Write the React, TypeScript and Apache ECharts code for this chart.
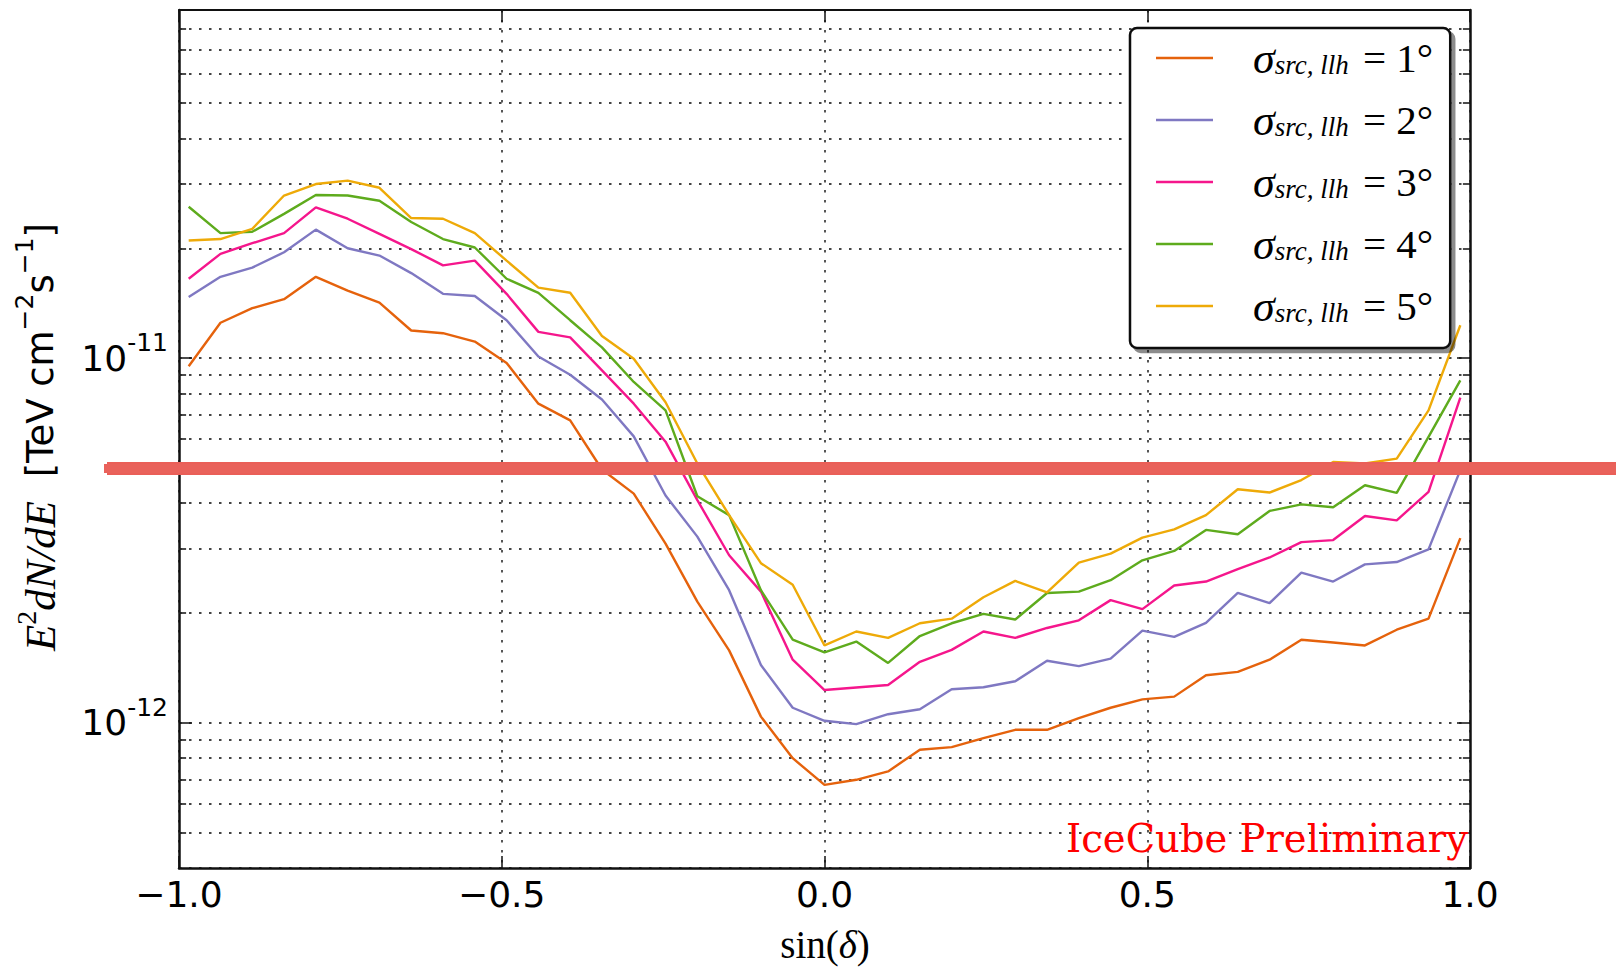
import React, { useEffect, useRef } from 'react';
import * as echarts from 'echarts';

// sin(declination) sample points
const xValues = [
  -0.985, -0.93575, -0.8865, -0.83725, -0.788, -0.73875, -0.6895, -0.64025, -0.591, -0.54175,
  -0.4925, -0.44325, -0.394, -0.34475, -0.2955, -0.24625, -0.197, -0.14775, -0.0985, -0.04925,
  0, 0.04925, 0.0985, 0.14775, 0.197, 0.24625, 0.2955, 0.34475, 0.394, 0.44325,
  0.4925, 0.54175, 0.591, 0.64025, 0.6895, 0.73875, 0.788, 0.83725, 0.8865, 0.93575, 0.985,
];

// values in units of 1e-12 TeV cm^-2 s^-1
const UNIT = 1e-12;
const sigma1 = [
  9.5, 12.5, 13.7, 14.5, 16.7, 15.3, 14.2, 11.9, 11.7, 11.1,
  9.7, 7.5, 6.75, 4.95, 4.25, 3.1, 2.15, 1.58, 1.04, 0.8,
  0.676, 0.698, 0.736, 0.844, 0.858, 0.908, 0.957, 0.957, 1.03, 1.1,
  1.16, 1.18, 1.35, 1.38, 1.49, 1.69, 1.66, 1.63, 1.8, 1.93, 3.21,
];
const sigma2 = [
  14.7, 16.7, 17.7, 19.5, 22.5, 20.0, 19.1, 17.1, 15.0, 14.8,
  12.7, 10.1, 9.0, 7.7, 6.1, 4.2, 3.24, 2.31, 1.44, 1.1,
  1.013, 0.992, 1.056, 1.09, 1.236, 1.252, 1.3, 1.48, 1.43, 1.5,
  1.79, 1.72, 1.88, 2.27, 2.13, 2.58, 2.44, 2.72, 2.76, 2.99, 4.93,
];
const sigma3 = [
  16.5, 19.3, 20.65, 22.0, 25.9, 24.1, 21.9, 19.9, 17.95, 18.5,
  15.0, 11.8, 11.4, 9.25, 7.5, 5.9, 4.08, 2.88, 2.29, 1.49,
  1.23, 1.25, 1.27, 1.47, 1.585, 1.78, 1.71, 1.82, 1.91, 2.17,
  2.05, 2.38, 2.44, 2.64, 2.84, 3.13, 3.17, 3.69, 3.59, 4.3, 7.79,
];
const sigma4 = [
  26.0, 22.0, 22.2, 24.85, 28.0, 27.9, 27.0, 23.6, 21.2, 20.1,
  16.5, 15.1, 12.7, 10.7, 8.6, 7.19, 4.18, 3.71, 2.31, 1.69,
  1.56, 1.67, 1.46, 1.73, 1.875, 1.99, 1.92, 2.27, 2.29, 2.46,
  2.79, 2.96, 3.38, 3.29, 3.81, 3.97, 3.9, 4.48, 4.27, 6.08, 8.69,
];
const sigma5 = [
  21.0, 21.2, 22.6, 27.9, 30.0, 30.65, 29.3, 24.2, 24.1, 22.0,
  18.5, 15.6, 15.1, 11.5, 9.96, 7.57, 5.14, 3.71, 2.74, 2.39,
  1.63, 1.78, 1.71, 1.875, 1.93, 2.21, 2.45, 2.28, 2.75, 2.91,
  3.22, 3.39, 3.71, 4.37, 4.28, 4.63, 5.19, 5.14, 5.3, 7.19, 12.3,
];

const seriesValues = [sigma1, sigma2, sigma3, sigma4, sigma5];
const seriesDegrees = ['1°', '2°', '3°', '4°', '5°'];
const seriesColors = ['#e5620c', '#7f78c2', '#f5168c', '#5eab1d', '#eeaa08'];

const xTicks = [-1.0, -0.5, 0.0, 0.5, 1.0];
const minorGridValues = [
  5e-13, 6e-13, 7e-13, 8e-13, 9e-13,
  2e-12, 3e-12, 4e-12, 5e-12, 6e-12, 7e-12, 8e-12, 9e-12,
  2e-11, 3e-11, 4e-11, 5e-11, 6e-11, 7e-11, 8e-11,
];
const yMin = 4e-13;
const yMax = 9e-11;
const annotationText = 'IceCube Preliminary';

const SANS = 'DejaVu Sans';
const SERIF = 'Liberation Serif';

const dotted = () => ({ type: [2.5, 7.5] as any, color: '#444', width: 1.8 });

export default function App() {
  const ref = useRef<HTMLDivElement>(null);

  useEffect(() => {
    if (!ref.current) return;
    const chart = echarts.init(ref.current, undefined, { renderer: 'svg' });

    const names = seriesDegrees.map((d) => `σsrc, llh = ${d}`);

    const lineSeries = seriesValues.map((vals, k) => ({
      type: 'line',
      name: names[k],
      data: vals.map((v, i) => [xValues[i], v * UNIT]),
      symbol: 'none',
      showSymbol: false,
      lineStyle: { color: seriesColors[k], width: 2.4 },
      itemStyle: { color: seriesColors[k] },
      z: 3,
      silent: true,
    }));

    const tickLen = 0.011;
    const option: any = {
      animation: false,
      backgroundColor: '#fff',
      grid: { left: 179, right: 146, top: 10, bottom: 100, containLabel: false },
      xAxis: [
        {
          type: 'value',
          min: -1,
          max: 1,
          interval: 0.5,
          axisLine: { show: true, onZero: false, lineStyle: { color: '#111', width: 2.5 } },
          axisTick: { show: true, inside: true, length: 12, lineStyle: { color: '#111', width: 1.5 } },
          axisLabel: {
            show: true,
            margin: 5,
            color: '#000',
            fontFamily: SANS,
            fontSize: 36,
            lineHeight: 42,
            formatter: (v: number) => {
              const t = xTicks.find((x) => Math.abs(x - v) < 1e-9);
              const val = t === undefined ? v : t;
              return (val < 0 ? '−' : '') + Math.abs(val).toFixed(1);
            },
          },
          splitLine: { show: true, lineStyle: dotted() },
        },
        {
          type: 'value',
          position: 'top',
          min: -1,
          max: 1,
          interval: 0.5,
          axisLine: { show: true, onZero: false, lineStyle: { color: '#111', width: 2 } },
          axisTick: { show: true, inside: true, length: 12, lineStyle: { color: '#111', width: 1.5 } },
          axisLabel: { show: false },
          splitLine: { show: false },
        },
      ],
      yAxis: [
        {
          type: 'log',
          logBase: 10,
          min: yMin,
          max: yMax,
          axisLine: { show: true, onZero: false, lineStyle: { color: '#111', width: 2.5 } },
          axisTick: { show: true, inside: true, length: 13, lineStyle: { color: '#111', width: 1.5 } },
          axisLabel: {
            show: true,
            margin: 11,
            showMinLabel: false,
            showMaxLabel: false,
            formatter: (v: number) => {
              const e = Math.round(Math.log10(v));
              return `{b|10}{s|${e}}`;
            },
            rich: {
              b: { fontFamily: SANS, fontSize: 36, lineHeight: 56, color: '#000' },
              s: { fontFamily: SANS, fontSize: 25, lineHeight: 25, verticalAlign: 'top', color: '#000' },
            },
          },
          splitLine: { show: true, lineStyle: dotted() },
        },
        {
          type: 'log',
          logBase: 10,
          position: 'right',
          min: yMin,
          max: yMax,
          axisLine: { show: true, onZero: false, lineStyle: { color: '#111', width: 2.5 } },
          axisTick: { show: true, inside: true, length: 13, lineStyle: { color: '#111', width: 1.5 } },
          axisLabel: { show: false },
          splitLine: { show: false },
        },
      ],
      legend: {
        show: true,
        z: 20,
        data: names.map((n) => ({ name: n, icon: 'rect' })),
        orient: 'vertical',
        left: 1130,
        top: 28,
        itemWidth: 57,
        itemHeight: 2.5,
        itemGap: 18,
        padding: [8, 17, 20, 26],
        backgroundColor: '#fff',
        borderColor: '#111',
        borderWidth: 2.5,
        borderRadius: 7,
        shadowColor: 'rgba(0,0,0,0.45)',
        shadowOffsetX: 4,
        shadowOffsetY: 4,
        shadowBlur: 0,
        selectedMode: false,
        formatter: (name: string) => {
          const deg = name.split('= ')[1];
          return `{s|σ}{sub|src, llh}{eq| = ${deg}}`;
        },
        textStyle: {
          color: '#000',
          rich: {
            s: { fontFamily: SERIF, fontStyle: 'italic', fontSize: 44, lineHeight: 40, padding: [0, 0, 0, 35], color: '#000' },
            sub: { fontFamily: SERIF, fontStyle: 'italic', fontSize: 27, lineHeight: 20, verticalAlign: 'bottom', padding: [0, 4, 0, 0], color: '#000' },
            eq: { fontFamily: SERIF, fontSize: 41, lineHeight: 40, color: '#000' },
          },
        },
      },
      series: [
        {
          type: 'line',
          name: 'minor-grid',
          data: [],
          silent: true,
          z: 1,
          markLine: {
            silent: true,
            z: 1,
            symbol: ['none', 'none'],
            label: { show: false },
            lineStyle: dotted(),
            emphasis: { disabled: true },
            data: minorGridValues.map((v) => [{ coord: [-1, v] }, { coord: [1, v] }]),
          },
        },
        {
          type: 'line',
          name: 'minor-ticks',
          data: [],
          silent: true,
          z: 2,
          markLine: {
            silent: true,
            z: 2,
            symbol: ['none', 'none'],
            label: { show: false },
            lineStyle: { type: 'solid', color: '#111', width: 1.5 },
            emphasis: { disabled: true },
            data: [
              ...minorGridValues.map((v) => [{ coord: [-1, v] }, { coord: [-1 + tickLen, v] }]),
              ...minorGridValues.map((v) => [{ coord: [1 - tickLen, v] }, { coord: [1, v] }]),
            ],
          },
        },
        ...lineSeries,
      ],
      graphic: [
        {
          type: 'text',
          x: 40,
          y: 437,
          rotation: Math.PI / 2,
          z: 10,
          style: {
            text: '{e|E}{es|2}{e|dN/dE}{t|  [TeV cm}{ts|−2}{t|s}{ts|−1}{t|]}',
            align: 'center',
            verticalAlign: 'middle',
            rich: {
              e: { fontFamily: SERIF, fontStyle: 'italic', fontSize: 43, lineHeight: 56, fill: '#000' },
              es: { fontFamily: SERIF, fontSize: 28, lineHeight: 27, verticalAlign: 'top', fill: '#000' },
              t: { fontFamily: SANS, fontSize: 37, lineHeight: 56, fill: '#000' },
              ts: { fontFamily: SANS, fontSize: 25, lineHeight: 27, verticalAlign: 'top', fill: '#000' },
            },
          },
        },
        {
          type: 'text',
          x: 825,
          y: 944,
          z: 10,
          style: {
            text: '{n|sin(}{d|δ}{n|)}',
            align: 'center',
            verticalAlign: 'middle',
            rich: {
              n: { fontFamily: SERIF, fontSize: 39, lineHeight: 40, fill: '#000' },
              d: { fontFamily: SERIF, fontStyle: 'italic', fontSize: 39, lineHeight: 40, fill: '#000' },
            },
          },
        },
        {
          type: 'text',
          x: 1468,
          y: 838,
          z: 10,
          style: {
            text: annotationText,
            align: 'right',
            verticalAlign: 'middle',
            fontFamily: 'DejaVu Serif',
            fontSize: 38.5,
            fill: '#ff0000',
          },
        },
        {
          type: 'rect',
          z: 100,
          shape: { x: 107, y: 462, width: 1509, height: 13 },
          style: { fill: '#ea5f58' },
        },
        {
          type: 'rect',
          z: 100,
          shape: { x: 104, y: 464, width: 1512, height: 9 },
          style: { fill: '#e9625b' },
        },
      ],
    };

    chart.setOption(option);
    return () => chart.dispose();
  }, []);

  return (
    <div
      ref={ref}
      style={{ position: 'fixed', left: 0, top: 0, width: 1616, height: 968, background: '#fff' }}
    />
  );
}
